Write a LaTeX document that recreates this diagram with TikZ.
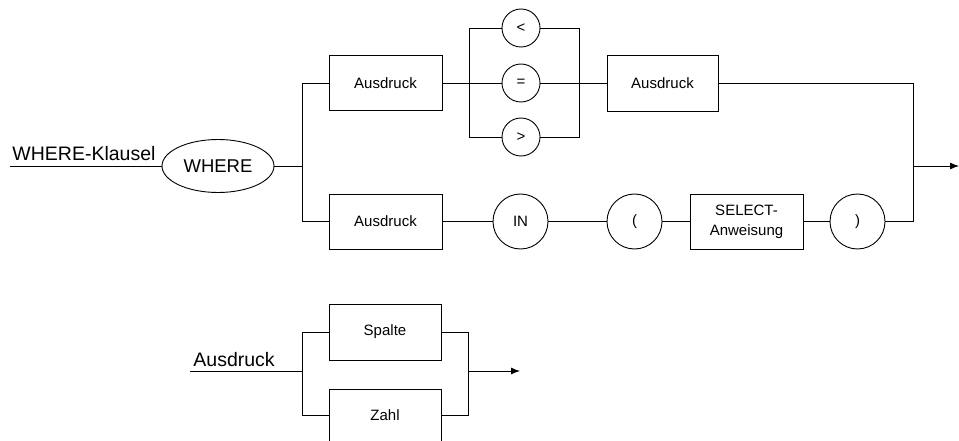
\documentclass[tikz,border=0pt]{standalone}
\usepackage{fontspec}
\setmainfont{Liberation Sans}
\usetikzlibrary{shapes.geometric,arrows.meta}
\begin{document}
\begin{tikzpicture}[x=1pt,y=-1pt,
  every path/.style={line width=0.9pt},
  box/.style={draw,rectangle,minimum width=113pt,minimum height=55pt,inner sep=0pt,font=\fontsize{15}{20}\selectfont,align=center},
  term/.style={draw,circle,minimum size=55pt,inner sep=0pt,font=\fontsize{15}{18}\selectfont},
  op/.style={draw,circle,minimum size=38pt,inner sep=0pt,font=\fontsize{15}{18}\selectfont},
  biglbl/.style={font=\fontsize{19.5}{22}\selectfont,inner sep=0pt},
  arr/.style={-{Latex[length=9pt,width=7pt]}}]
\useasboundingbox (0,0) rectangle (959,441);
% ---------- WHERE-Klausel ----------
\coordinate (sW) at (10,166);
\node[biglbl,anchor=south west] (lblW) at (12,161) {WHERE-Klausel};
\node[draw,ellipse,minimum width=112pt,minimum height=53pt,inner sep=0pt,font=\fontsize{18.5}{22}\selectfont] (where) at (218,166) {WHERE};
\coordinate (j1) at (302,166);
\coordinate (j1t) at (302,83);
\coordinate (j1b) at (302,221.5);
\node[box] (a1) at (385.5,83) {Ausdruck};
\coordinate (c1l) at (469,83);
\coordinate (c1lt) at (469,28);
\coordinate (c1lb) at (469,137);
\node[op] (lt) at (521,28) {<};
\node[op] (eq) at (521,83) {=};
\node[op] (gt) at (521,137) {>};
\coordinate (c1r) at (579,83);
\coordinate (c1rt) at (579,28);
\coordinate (c1rb) at (579,137);
\node[box,minimum width=111pt,minimum height=56pt] (a2) at (662.5,83) {Ausdruck};
\coordinate (j2t) at (913,83);
\coordinate (j2) at (913,166);
\coordinate (j2b) at (913,221.5);
\coordinate (eW) at (959,166);
\node[box] (a3) at (385.5,221.5) {Ausdruck};
\node[term] (in) at (520.5,221.5) {IN};
\node[term] (lp) at (634.5,221.5) {(};
\node[box] (sel) at (746.5,221.5) {SELECT-\\Anweisung};
\node[term] (rp) at (857.5,221.5) {)};
\draw (sW) -- (where.west);
\draw (where.east) -- (j1);
\draw (a1.west) -- (j1t) -- (j1b) -- (a3.west);
\draw (a1.east) -- (c1l);
\draw (lt.west) -- (c1lt) -- (c1lb) -- (gt.west);
\draw (c1l) -- (eq.west);
\draw (lt.east) -- (c1rt) -- (c1rb) -- (gt.east);
\draw (eq.east) -- (c1r);
\draw (c1r) -- (a2.west);
\draw (a2.east) -- (j2t) -- (j2b) -- (rp.east);
\draw (a3.east) -- (in.west);
\draw (in.east) -- (lp.west);
\draw (lp.east) -- (sel.west);
\draw (sel.east) -- (rp.west);
\draw[arr] (j2) -- (eW);
% ---------- Ausdruck ----------
\coordinate (sA) at (190,371);
\node[biglbl,anchor=south west] (lblA) at (193,367) {Ausdruck};
\coordinate (k1) at (302,371);
\coordinate (k1t) at (302,332);
\coordinate (k1b) at (302,415);
\node[box,minimum width=112pt,minimum height=56pt] (sp) at (385,332) {Spalte};
\node[box,minimum width=112pt,minimum height=52pt] (zl) at (385,415) {Zahl};
\coordinate (k2) at (468,371);
\coordinate (k2t) at (468,332);
\coordinate (k2b) at (468,415);
\coordinate (eA) at (520,371);
\draw (sA) -- (k1);
\draw (sp.west) -- (k1t) -- (k1b) -- (zl.west);
\draw (sp.east) -- (k2t) -- (k2b) -- (zl.east);
\draw[arr] (k2) -- (eA);
\end{tikzpicture}
\end{document}
